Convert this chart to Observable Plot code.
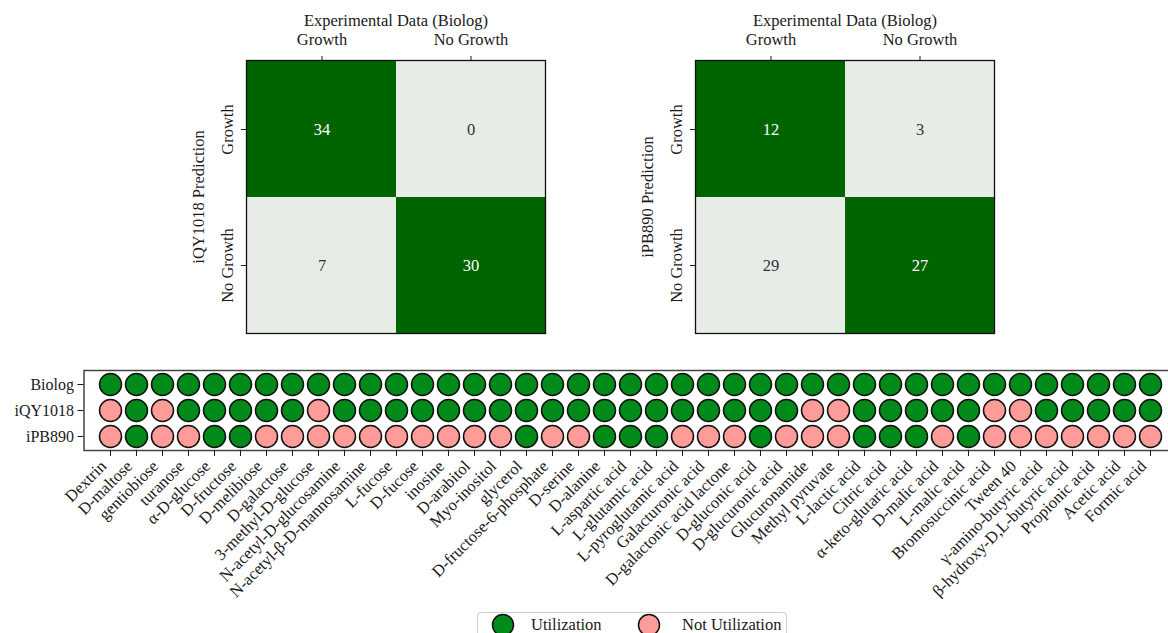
<!DOCTYPE html>
<html><head><meta charset="utf-8">
<script src="https://cdn.jsdelivr.net/npm/d3@7"></script>
<script src="https://cdn.jsdelivr.net/npm/@observablehq/plot@0.6"></script>
<style>
html,body{margin:0;padding:0;background:#fff;overflow:hidden;}
#root{position:relative;width:1168px;height:633px;overflow:hidden;font-family:"Liberation Serif","Times New Roman",serif;color:#1a1a1a;}
.abs{position:absolute;max-width:none !important;}
.legend{position:absolute;left:477px;top:612px;width:310px;height:30px;border:1px solid #cfcfcf;border-radius:4px;background:#fff;box-sizing:border-box;font-size:16.5px;}
.legend span{position:absolute;top:2px;}
.legend svg{position:absolute;top:0px;}
</style></head><body><div id="root"></div>
<script>
// ---------- data ----------
const substrates = ["Dextrin","D-maltose","gentiobiose","turanose","α-D-glucose","D-fructose","D-melibiose","D-galactose","3-methyl-D-glucose","N-acetyl-D-glucosamine","N-acetyl-β-D-mannosamine","L-fucose","D-fucose","inosine","D-arabitol","Myo-inositol","glycerol","D-fructose-6-phosphate","D-serine","D-alanine","L-aspartic acid","L-glutamic acid","L-pyroglutamic acid","Galacturonic acid","D-galactonic acid lactone","D-gluconic acid","D-glucuronic acid","Glucuronamide","Methyl pyruvate","L-lactic acid","Citric acid","α-keto-glutaric acid","D-malic acid","L-malic acid","Bromosuccinic acid","Tween 40","γ-amino-butyric acid","β-hydroxy-D,L-butyric acid","Propionic acid","Acetic acid","Formic acid"];
// 1 = Utilization, 0 = Not Utilization
const biolog  = [1,1,1,1,1,1,1,1,1,1,1,1,1,1,1,1,1,1,1,1,1,1,1,1,1,1,1,1,1,1,1,1,1,1,1,1,1,1,1,1,1];
const iQY1018 = [0,1,0,1,1,1,1,1,0,1,1,1,1,1,1,1,1,1,1,1,1,1,1,1,1,1,1,0,0,1,1,1,1,1,0,0,1,1,1,1,1];
const iPB890  = [0,1,0,0,1,1,0,0,0,0,0,0,0,0,0,0,1,0,0,1,1,1,0,0,0,1,0,0,0,1,1,1,0,1,0,0,0,0,0,0,0];
const rowNames = ["Biolog","iQY1018","iPB890"];
const statusNames = ["Utilization","Not Utilization"];

const expLabels = ["Growth","No Growth"];
const predLabels = ["Growth","No Growth"];
const cmIQY1018 = [[34,0],[7,30]];
const cmIPB890  = [[12,3],[29,27]];

// ---------- styling ----------
const DARK = "#006400", LIGHT = "#e8ece7";
const GREEN = "#008a1a", PINK = "#ff9c99";
const FONT = "Liberation Serif, Times New Roman, serif";
const FS = "16.5px";
const root = document.getElementById("root");

function heat(counts, model, left, ml, mr) {
  const data = [];
  predLabels.forEach((p, i) => expLabels.forEach((e, j) =>
    data.push({pred: p, exp: e, n: counts[i][j], kind: i === j ? "correct" : "wrong"})));
  const svg = Plot.plot({
    width: 584, height: 340,
    marginLeft: ml, marginRight: mr, marginTop: 60, marginBottom: 7,
    style: {fontFamily: FONT, fontSize: FS, color: "#1a1a1a", background: "transparent", maxWidth: "none"},
    x: {domain: expLabels, padding: 0},
    y: {domain: predLabels, padding: 0},
    color: {domain: ["correct","wrong"], range: [DARK, LIGHT]},
    marks: [
      Plot.cell(data, {x: "exp", y: "pred", fill: "kind"}),
      Plot.text(data.filter(d => d.kind === "correct"), {x: "exp", y: "pred", text: "n", fill: "white", fontSize: 16.5}),
      Plot.text(data.filter(d => d.kind === "wrong"), {x: "exp", y: "pred", text: "n", fill: "#333", fontSize: 16.5}),
      Plot.frame({stroke: "#111", strokeWidth: 1.3}),
      Plot.axisX({anchor: "top", tickSize: 5, tickPadding: 11, label: "Experimental Data (Biolog)", labelAnchor: "center", labelOffset: 46}),
      Plot.axisY({anchor: "left", tickSize: 5, tickPadding: 9, tickRotate: -90, label: model + " Prediction", labelAnchor: "center", labelOffset: 54})
    ]
  });
  svg.classList.add("abs");
  svg.style.left = left + "px"; svg.style.top = "0px";
  root.appendChild(svg);
}
heat(cmIQY1018, "iQY1018", 0, 246, 39);
heat(cmIPB890, "iPB890", 584, 111, 174);

// dot matrix
const rows = [biolog, iQY1018, iPB890];
const dots = [];
rowNames.forEach((r, k) => substrates.forEach((s, i) =>
  dots.push({row: r, substrate: s, status: rows[k][i] ? statusNames[0] : statusNames[1]})));
const dotSvg = Plot.plot({
  width: 1185, height: 293,
  marginLeft: 83.5, marginRight: 8, marginTop: 30, marginBottom: 183,
  style: {fontFamily: FONT, fontSize: "16px", color: "#1a1a1a", background: "transparent", maxWidth: "none"},
  x: {domain: substrates, padding: 0.5, label: null},
  y: {domain: rowNames, padding: 0.5, label: null},
  color: {domain: statusNames, range: [GREEN, PINK]},
  marks: [
    Plot.frame({stroke: "#444", strokeWidth: 1.5}),
    Plot.dot(dots, {x: "substrate", y: "row", fill: "status", r: 11, stroke: "#111", strokeWidth: 1.5}),
    Plot.axisX({anchor: "bottom", tickSize: 6, tickFormat: () => "", label: null}),
    Plot.axisX({anchor: "bottom", tickSize: 0, tickPadding: 10, tickRotate: -45, dx: -7, dy: 3, fontSize: 16.5, label: null}),
    Plot.axisY({anchor: "left", tickSize: 6, tickPadding: 4, label: null})
  ]
});
dotSvg.classList.add("abs");
dotSvg.style.left = "0px"; dotSvg.style.top = "340px";
root.appendChild(dotSvg);

// legend
const lg = document.createElement("div");
lg.className = "legend";
const items = [{x: 13, tx: 53}, {x: 159, tx: 204}];
statusNames.forEach((name, i) => {
  const c = i === 0 ? GREEN : PINK;
  lg.insertAdjacentHTML("beforeend",
    `<svg width="24" height="24" style="left:${items[i].x}px"><circle cx="12" cy="12" r="10.5" fill="${c}" stroke="#111" stroke-width="1.5"/></svg><span style="left:${items[i].tx}px">${name}</span>`);
});
root.appendChild(lg);
</script></body></html>
